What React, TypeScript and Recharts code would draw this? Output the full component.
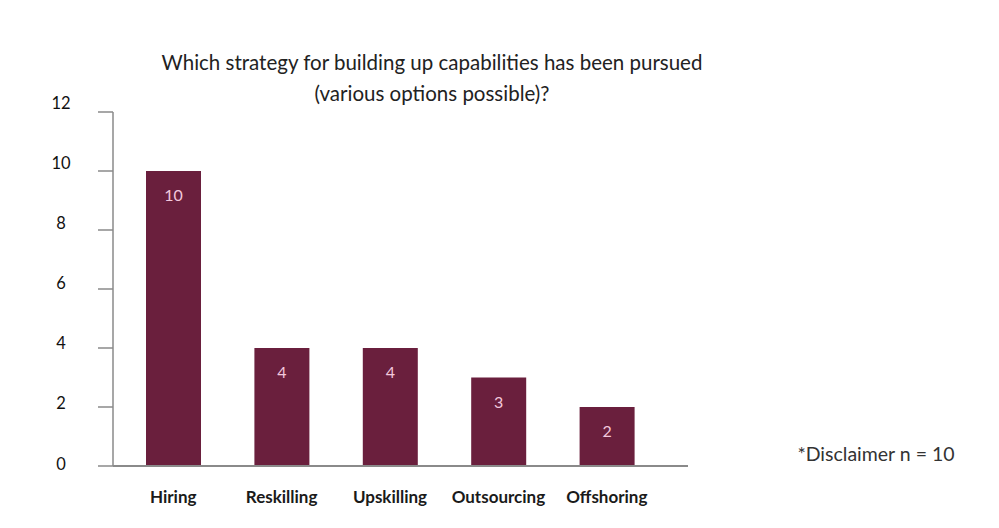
import React from "react";
import { BarChart, Bar, XAxis, YAxis, LabelList } from "recharts";

const categories = ["Hiring", "Reskilling", "Upskilling", "Outsourcing", "Offshoring"];
const counts = [10, 4, 4, 3, 2];
const yTicks = [0, 2, 4, 6, 8, 10, 12];
const titleLines = [
  "Which strategy for building up capabilities has been pursued",
  "(various options possible)?",
];
const disclaimer = "*Disclaimer n = 10";

const data = categories.map((name, i) => ({ name, value: counts[i] }));

const FONT = "Lato, 'Open Sans', sans-serif";
const BAR = "#6a1f3d";

const YTick = (props: any) => {
  const { y, payload } = props;
  const cy = y - 9 + (y - 112) * 0.02;
  return (
    <text x={61} y={cy} dy={5.5} textAnchor="middle" fontSize={16.5} fill="#111" fontFamily={FONT}>
      {payload.value}
    </text>
  );
};

const XTick = (props: any) => {
  const { x, y, payload } = props;
  return (
    <text x={x} y={y} dy={29} textAnchor="middle" fontSize={17} fontWeight={700} fill="#1a1a1a" fontFamily={FONT}>
      {payload.value}
    </text>
  );
};

export default function App() {
  return (
    <div style={{ position: "absolute", left: 0, top: 0, width: 999, height: 528, background: "#fff", fontFamily: FONT }}>
      <BarChart
        width={999}
        height={528}
        data={data}
        margin={{ top: 112, right: 311, bottom: 32, left: 0 }}
      >
        <XAxis
          dataKey="name"
          height={30}
          tick={<XTick />}
          tickLine={false}
          axisLine={{ stroke: "#8a8a8a", strokeWidth: 2 }}
          padding={{ left: 6, right: 27 }}
          interval={0}
        />
        <YAxis
          width={113}
          domain={[0, 12]}
          ticks={yTicks}
          tick={<YTick />}
          tickSize={15}
          tickLine={{ stroke: "#8a8a8a", strokeWidth: 1.5 }}
          axisLine={{ stroke: "#8a8a8a", strokeWidth: 1.5 }}
          interval={0}
        />
        <Bar dataKey="value" fill={BAR} barSize={55} isAnimationActive={false}>
          <LabelList dataKey="value" position="insideTop" offset={19} fill="#f2c8dc" fontSize={16} fontFamily={FONT} />
        </Bar>
        <text x={432} y={70} textAnchor="middle" fontSize={20.5} fill="#222" fontFamily={FONT}>
          {titleLines[0]}
        </text>
        <text x={432} y={101} textAnchor="middle" fontSize={20.5} fill="#222" fontFamily={FONT}>
          {titleLines[1]}
        </text>
        <text x={876} y={461} textAnchor="middle" fontSize={19.5} fill="#333" fontFamily={FONT}>
          {disclaimer}
        </text>
      </BarChart>
    </div>
  );
}
